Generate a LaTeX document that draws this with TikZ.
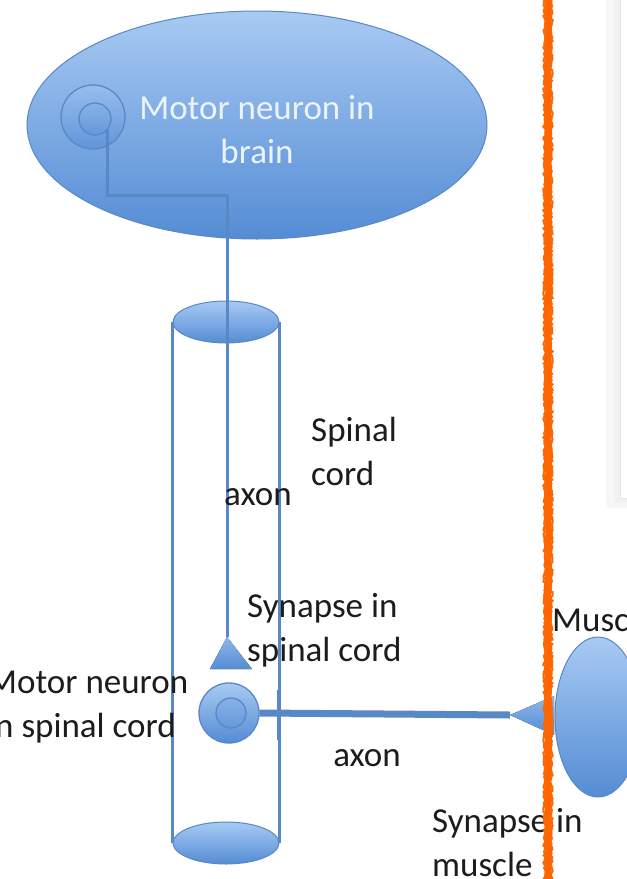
\documentclass[tikz,border=0pt]{standalone}
\usepackage{fontspec}
\setmainfont{Carlito}
\usetikzlibrary{shapes.geometric,decorations.pathmorphing}
\definecolor{blueline}{RGB}{88,136,198}
\definecolor{bluetop}{RGB}{168,202,243}
\definecolor{bluebot}{RGB}{84,140,212}
\definecolor{orng}{RGB}{255,102,0}
\definecolor{txt}{RGB}{28,28,28}
\definecolor{lighttxt}{RGB}{236,243,252}
\begin{document}
\begin{tikzpicture}[x=1pt,y=-1pt,
  blob/.style={ellipse, draw=blueline, line width=1pt, top color=bluetop, bottom color=bluebot, inner sep=0pt},
  ring/.style={circle, draw=blueline, line width=1.3pt, inner sep=0pt},
  axonline/.style={draw=blueline, line width=3pt},
  thickaxon/.style={draw=blueline, line width=7pt},
  wall/.style={draw=blueline, line width=3pt},
  syn/.style={top color=bluetop!70!bluebot, bottom color=bluebot, draw=none},
  lbl/.style={inner sep=0pt, text=txt, font=\fontsize{35}{44}\selectfont, align=left},
]
\useasboundingbox (0,0) rectangle (627,879);
\clip (0,0) rectangle (627,879);
\fill[white] (0,0) rectangle (627,879);

% right panel (partly visible)
\fill[black!3] (606,-5) rectangle (640,508);
\fill[black!5] (614,-5) rectangle (640,503);
\fill[white] (620,-5) rectangle (640,498);
\draw[black!10, line width=0.8pt] (620,-5) -- (620,498) -- (640,498);

% brain
\node[blob, minimum width=460, minimum height=228] (brain) at (257,125) {};
\node[ring, minimum size=64, top color=bluetop!80!bluebot, bottom color=bluebot!85!bluetop] (bso) at (93,117) {};
\node[ring, minimum size=32, top color=bluetop!60!bluebot, bottom color=bluebot!80!bluetop] (bsi) at (95,119) {};
\node[inner sep=0pt, text=lighttxt, align=center, font=\fontsize{35}{44}\selectfont] (brainlbl) at (257,130) {Motor neuron in\\brain};

% spinal cord cylinder
\node[blob, minimum width=106, minimum height=42] (cyltop) at (226,322) {};
\node[blob, minimum width=106, minimum height=42] (cylbot) at (226,843) {};
\draw[wall] (cyltop.west) -- (cylbot.west);
\draw[wall] (cyltop.east) -- (cylbot.east);

% synapse in spinal cord
\coordinate (syn1) at (227,637);
\coordinate (syn1l) at (210,669);
\coordinate (syn1r) at (252,669);
\fill[syn] (syn1) -- (syn1r) -- (syn1l) -- cycle;

% axon from brain
\coordinate (bend1) at (108,195);
\coordinate (bend2) at (227,195);
\draw[axonline] (bsi.-40) |- (bend2) -- (syn1);

% spinal motor neuron
\node[ring, minimum size=60, top color=bluetop, bottom color=bluebot] (sso) at (229,713) {};
\node[ring, minimum size=30, top color=bluetop!60!bluebot, bottom color=bluebot!80!bluetop] (ssi) at (231,713) {};

% muscle
\node[blob, minimum width=86, minimum height=160] (muscle) at (598,717) {};

% synapse in muscle
\coordinate (syn2) at (510,715);
\coordinate (syn2t) at (554,696);
\coordinate (syn2b) at (554,735);
\draw[thickaxon] (sso.east) -- (syn2);
\fill[syn] (syn2) -- (syn2t) -- (syn2b) -- cycle;
\draw[wall] (278,690) -- (278,740);

% labels
\node[lbl, anchor=west] (spinallbl) at (311,451) {Spinal\\cord};
\node[lbl] (axon1lbl) at (258,497) {axon};
\node[lbl, anchor=west] (syn1lbl) at (247,630) {Synapse in\\spinal cord};
\node[lbl, anchor=west] (mnlbl) at (-13,707) {Motor neuron\\in spinal cord};
\node[lbl] (axon2lbl) at (367,758) {axon};
\node[lbl, anchor=west] (syn2lbl) at (432,843) {Synapse in\\muscle};
\node[lbl, anchor=west] (musclelbl) at (552,619) {Muscle};

% orange divider
\pgfmathsetseed{7}
\draw[orng, line width=6.5pt, decorate, decoration={random steps, segment length=3pt, amplitude=0.7pt}] (548,-5) -- (548,885);
\draw[orng, line width=2pt, decorate, decoration={random steps, segment length=2pt, amplitude=1.2pt}] (544.5,-5) -- (544.5,885);
\draw[orng, line width=2pt, decorate, decoration={random steps, segment length=2pt, amplitude=1.2pt}] (551.5,-5) -- (551.5,885);
\end{tikzpicture}
\end{document}
